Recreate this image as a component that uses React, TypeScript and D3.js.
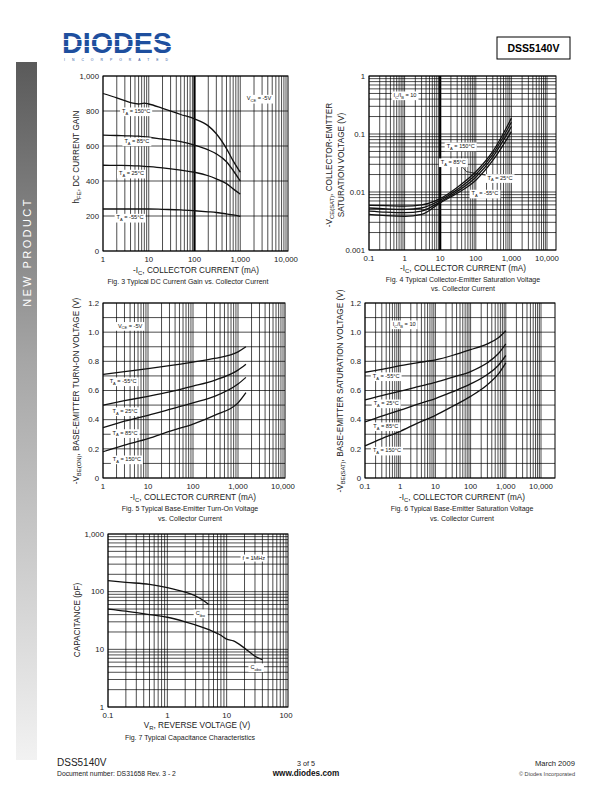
import React, { useLayoutEffect, useRef, useState } from 'react';
import * as d3 from 'd3';

// Fig. 3 - hFE vs IC
const fig3Current = [1, 2, 4, 6, 8, 10, 20, 50, 100, 200, 300, 500, 700, 1000];
const fig3Gain150 = [900, 875, 848, 840, 845, 840, 815, 780, 755, 715, 670, 585, 515, 450];
const fig3Gain85 = [662, 660, 658, 656, 654, 650, 640, 625, 605, 578, 555, 510, 460, 400];
const fig3Gain25 = [490, 489, 488, 486, 484, 482, 475, 462, 450, 430, 412, 385, 355, 325];
const fig3GainM55 = [240, 240, 240, 240, 240, 240, 238, 235, 230, 224, 220, 212, 206, 198];

// Fig. 4 - VCE(sat) vs IC
const fig4Current = [0.1, 0.3, 1, 3, 10, 30, 100, 300, 1000];
const fig4Vce150 = [0.0059, 0.0058, 0.0057, 0.006, 0.0077, 0.012, 0.0223, 0.05, 0.188];
const fig4Vce85 = [0.0053, 0.0051, 0.005, 0.0053, 0.0072, 0.011, 0.02, 0.045, 0.16];
const fig4Vce25 = [0.0047, 0.0045, 0.0044, 0.0047, 0.0068, 0.0102, 0.018, 0.04, 0.135];
const fig4VceM55 = [0.0041, 0.0039, 0.0038, 0.0041, 0.0065, 0.0095, 0.016, 0.035, 0.11];

// Fig. 5 - VBE(on) vs IC
const fig5Current = [1, 3, 10, 30, 100, 300, 1000, 1500];
const fig5VbeM55 = [0.71, 0.73, 0.75, 0.77, 0.795, 0.82, 0.865, 0.9];
const fig5Vbe25 = [0.5, 0.53, 0.56, 0.59, 0.63, 0.67, 0.74, 0.78];
const fig5Vbe85 = [0.345, 0.39, 0.43, 0.47, 0.515, 0.56, 0.645, 0.69];
const fig5Vbe150 = [0.18, 0.225, 0.27, 0.32, 0.37, 0.43, 0.515, 0.585];

// Fig. 6 - VBE(sat) vs IC
const fig6Current = [0.1, 0.3, 1, 3, 10, 30, 100, 300, 600, 1000];
const fig6VbeM55 = [0.725, 0.745, 0.77, 0.79, 0.81, 0.84, 0.88, 0.92, 0.96, 1.01];
const fig6Vbe25 = [0.535, 0.565, 0.595, 0.625, 0.655, 0.69, 0.73, 0.79, 0.85, 0.92];
const fig6Vbe85 = [0.385, 0.425, 0.465, 0.505, 0.545, 0.59, 0.645, 0.71, 0.77, 0.84];
const fig6Vbe150 = [0.22, 0.27, 0.32, 0.375, 0.43, 0.49, 0.56, 0.64, 0.71, 0.79];

// Fig. 7 - capacitance vs VR
const fig7CiboVolt = [0.1, 0.2, 0.5, 1, 2, 3, 4, 5];
const fig7Cibo = [155, 145, 134, 118, 98, 84, 71, 60];
const fig7CoboVolt = [0.1, 0.2, 0.5, 1, 2, 5, 8, 10, 13, 20, 30, 40];
const fig7Cobo = [50, 46, 40, 36, 30, 22, 17.5, 15, 14, 10.5, 7.6, 6.6];

// tick labels
const ticksCurrent1 = [1, 10, 100, 1000, 10000];
const ticksCurrent01 = [0.1, 1, 10, 100, 1000, 10000];
const ticksCurrentLbl1 = ['1', '10', '100', '1,000', '10,000'];
const ticksCurrentLbl01 = ['0.1', '1', '10', '100', '1,000', '10,000'];
const ticksGain = [0, 200, 400, 600, 800, 1000];
const ticksGainLbl = ['0', '200', '400', '600', '800', '1,000'];
const ticksVsat = [0.001, 0.01, 0.1, 1];
const ticksVsatLbl = ['0.001', '0.01', '0.1', '1'];
const ticksVbe = [0, 0.2, 0.4, 0.6, 0.8, 1.0, 1.2];
const ticksVbeLbl = ['0', '0.2', '0.4', '0.6', '0.8', '1.0', '1.2'];
const ticksVr = [0.1, 1, 10, 100];
const ticksVrLbl = ['0.1', '1', '10', '100'];
const ticksCap = [1, 10, 100, 1000];
const ticksCapLbl = ['1', '10', '100', '1,000'];

const FONT = '"Liberation Sans", Arial, Helvetica, sans-serif';
const TICK = 7.8;
const TITLE = 8.2;

function logGrid(min: number, max: number) {
  const out: number[] = [];
  for (let d = Math.floor(Math.log10(min)); d < Math.ceil(Math.log10(max)); d++) {
    for (let k = 1; k <= 9; k++) {
      const v = k * Math.pow(10, d);
      if (v >= min * 0.999 && v <= max * 1.001) out.push(v);
    }
  }
  out.push(max);
  return out;
}

// parts: plain strings, or [string] for a subscript
type Part = string | [string];
const Rich: React.FC<{ parts: Part[]; size: number }> = ({ parts, size }) => {
  let low = false;
  return (
    <>
      {parts.map((p, i) => {
        const isSub = Array.isArray(p);
        const text = isSub ? (p as [string])[0] : (p as string);
        const dy = isSub && !low ? size * 0.3 : !isSub && low ? -size * 0.3 : 0;
        low = isSub;
        return (
          <tspan key={i} dy={dy || undefined} fontSize={isSub ? size * 0.72 : undefined}>{text}</tspan>
        );
      })}
    </>
  );
};

const BoxLabel: React.FC<{ x: number; y: number; size?: number; children: React.ReactNode }> = ({ x, y, size = 5.6, children }) => {
  const ref = useRef<SVGTextElement>(null);
  const [box, setBox] = useState<{ x: number; y: number; w: number; h: number } | null>(null);
  useLayoutEffect(() => {
    if (ref.current) {
      const b = ref.current.getBBox();
      setBox({ x: b.x - 2, y: b.y - 0.5, w: b.width + 4, h: b.height + 1 });
    }
  }, []);
  return (
    <g>
      {box && <rect x={box.x} y={box.y} width={box.w} height={box.h} fill="white" />}
      <text ref={ref} x={x} y={y + size * 0.35} textAnchor="middle" fontSize={size} fontFamily={FONT} fill="#111">
        {children}
      </text>
    </g>
  );
};

interface Ann {
  x: number;
  y: number;
  content: React.ReactNode;
}

interface ChartProps {
  x0: number; x1: number; y0: number; y1: number;
  xEnd: number;
  xDomain: [number, number];
  xTicks: number[]; xTickLabels: string[];
  yLog: boolean;
  yDomain: [number, number];
  yTicks: number[]; yTickLabels: string[];
  yGrid: number[];
  boldX?: number[];
  series: { x: number[]; y: number[] }[];
  labels: Ann[];
  leaders?: { from: [number, number]; to: [number, number] }[];
}

const Chart: React.FC<ChartProps> = (p) => {
  const xs = d3.scaleLog().domain(p.xDomain).range([p.x0, p.xEnd]);
  const ys = p.yLog
    ? d3.scaleLog().domain(p.yDomain).range([p.y1, p.y0])
    : d3.scaleLinear().domain(p.yDomain).range([p.y1, p.y0]);
  const line = d3.line<[number, number]>()
    .x(d => xs(d[0]))
    .y(d => ys(d[1]))
    .curve(d3.curveMonotoneX);
  const vGrid = logGrid(p.xDomain[0], p.xDomain[1]);
  return (
    <g fontFamily={FONT}>
      {vGrid.map((v, i) => (
        <line key={'v' + i} x1={xs(v)} x2={xs(v)} y1={p.y0} y2={p.y1} stroke="#000" strokeWidth={0.7} />
      ))}
      {(p.boldX || []).map((v, i) => (
        <line key={'b' + i} x1={xs(v)} x2={xs(v)} y1={p.y0} y2={p.y1} stroke="#000" strokeWidth={2.2} />
      ))}
      {p.yGrid.map((v, i) => (
        <line key={'h' + i} x1={p.x0} x2={p.x1} y1={ys(v)} y2={ys(v)} stroke="#000" strokeWidth={0.7} />
      ))}
      <rect x={p.x0} y={p.y0} width={p.x1 - p.x0} height={p.y1 - p.y0} fill="none" stroke="#000" strokeWidth={1} />
      {p.series.map((s, i) => (
        <path key={'s' + i} d={line(s.x.map((x, j) => [x, s.y[j]] as [number, number])) || ''}
          fill="none" stroke="#111" strokeWidth={1.3} />
      ))}
      {(p.leaders || []).map((l, i) => (
        <line key={'l' + i} x1={xs(l.from[0])} y1={ys(l.from[1])} x2={xs(l.to[0])} y2={ys(l.to[1])}
          stroke="#111" strokeWidth={0.8} />
      ))}
      {p.labels.map((a, i) => (
        <BoxLabel key={'a' + i} x={xs(a.x)} y={ys(a.y)}>{a.content}</BoxLabel>
      ))}
      {p.xTicks.map((v, i) => (
        <text key={'xt' + i} x={xs(v)} y={p.y1 + 11} textAnchor="middle" fontSize={TICK} fill="#222">{p.xTickLabels[i]}</text>
      ))}
      {p.yTicks.map((v, i) => (
        <text key={'yt' + i} x={p.x0 - 4} y={ys(v) + 2.8} textAnchor="end" fontSize={TICK} fill="#222">{p.yTickLabels[i]}</text>
      ))}
    </g>
  );
};

const LS = 5.6;
const TA = (t: string) => <Rich parts={['T', ['A'], ` = ${t}°C`]} size={LS} />;

const Caption: React.FC<{ x: number; y: number; size?: number; children: React.ReactNode; rotate?: boolean }> = ({ x, y, size = 7.4, children, rotate }) => (
  <text transform={`translate(${x},${y})${rotate ? ' rotate(-90)' : ''}`} textAnchor="middle" fontSize={size}
    fontFamily={FONT} fill="#222">{children}</text>
);

const App: React.FC = () => {
  const icTitle = <Rich parts={['-I', ['C'], ', COLLECTOR CURRENT (mA)']} size={TITLE} />;
  const ratio = <Rich parts={['I', ['C'], '/I', ['B'], ' = 10']} size={LS} />;
  const vce = <Rich parts={['V', ['CE'], ' = -5V']} size={LS} />;
  return (
    <svg width={612} height={792} style={{ position: 'absolute', left: 0, top: 0, background: '#fff' }}>
      <defs>
        <linearGradient id="side" x1="0" x2="0" y1="0" y2="1">
          <stop offset="0" stopColor="#5a5a5a" />
          <stop offset="0.43" stopColor="#a6a6a6" />
          <stop offset="1" stopColor="#f2f2f2" />
        </linearGradient>
      </defs>
      <rect width={612} height={792} fill="#fff" />

      {/* header */}
      <text x={62} y={53} fontFamily='"Liberation Sans", sans-serif' fontWeight={700} fontSize={30} fill="#1e4f9e"
        textLength={110} lengthAdjust="spacingAndGlyphs">DIODES</text>
      <line x1={60} x2={175} y1={39.5} y2={39.5} stroke="#fff" strokeWidth={0.9} />
      <line x1={60} x2={175} y1={46.5} y2={46.5} stroke="#fff" strokeWidth={0.9} />
      <text x={64} y={61} fontFamily={FONT} fontSize={3.4} fill="#1e4f9e" textLength={104}
        lengthAdjust="spacing">INCORPORATED</text>
      <rect x={497} y={37} width={73} height={22} fill="none" stroke="#000" strokeWidth={1} />
      <text x={533.5} y={52} textAnchor="middle" fontFamily={FONT} fontWeight={700} fontSize={10.5}>DSS5140V</text>

      {/* side bar */}
      <rect x={16} y={62} width={21} height={698} fill="url(#side)" />
      <text transform="translate(30.5,252) rotate(-90)" textAnchor="middle" fontFamily={FONT} fontSize={11}
        letterSpacing={2.4} fill="#fff">NEW PRODUCT</text>

      {/* Fig 3 */}
      <Chart x0={103} x1={288} y0={76} y1={251} xEnd={286} xDomain={[1, 10000]}
        xTicks={ticksCurrent1} xTickLabels={ticksCurrentLbl1}
        yLog={false} yDomain={[0, 1000]} yTicks={ticksGain} yTickLabels={ticksGainLbl}
        yGrid={ticksGain} boldX={[100]}
        series={[
          { x: fig3Current, y: fig3Gain150 },
          { x: fig3Current, y: fig3Gain85 },
          { x: fig3Current, y: fig3Gain25 },
          { x: fig3Current, y: fig3GainM55 },
        ]}
        labels={[
          { x: 5.3, y: 800, content: TA('150') },
          { x: 5.5, y: 628, content: TA('85') },
          { x: 4.2, y: 444, content: TA('25') },
          { x: 3.9, y: 192, content: TA('-55') },
          { x: 2570, y: 872, content: vce },
        ]}
      />
      <Caption x={79} y={157} rotate size={TITLE}><Rich parts={['h', ['FE'], ', DC CURRENT GAIN']} size={TITLE} /></Caption>
      <Caption x={196} y={273} size={TITLE}>{icTitle}</Caption>
      <Caption x={188} y={283.5} size={7}>Fig. 3 Typical DC Current Gain vs. Collector Current</Caption>

      {/* Fig 4 */}
      <Chart x0={369} x1={556} y0={76} y1={250} xEnd={547} xDomain={[0.1, 10000]}
        xTicks={ticksCurrent01} xTickLabels={ticksCurrentLbl01}
        yLog={true} yDomain={[0.001, 1]} yTicks={ticksVsat} yTickLabels={ticksVsatLbl}
        yGrid={logGrid(0.001, 1)} boldX={[10]}
        series={[
          { x: fig4Current, y: fig4Vce150 },
          { x: fig4Current, y: fig4Vce85 },
          { x: fig4Current, y: fig4Vce25 },
          { x: fig4Current, y: fig4VceM55 },
        ]}
        leaders={[
          { from: [40, 0.028], to: [55, 0.0224] },
          { from: [300, 0.0185], to: [55, 0.0224] },
        ]}
        labels={[
          { x: 1.03, y: 0.47, content: ratio },
          { x: 37.7, y: 0.062, content: TA('150') },
          { x: 23.4, y: 0.033, content: TA('85') },
          { x: 479, y: 0.0176, content: TA('25') },
          { x: 181, y: 0.0095, content: TA('-55') },
        ]}
      />
      <Caption x={332} y={165} rotate size={TITLE}><Rich parts={['-V', ['CE(SAT)'], ', COLLECTOR-EMITTER']} size={TITLE} /></Caption>
      <Caption x={344} y={165} rotate size={TITLE}>SATURATION VOLTAGE (V)</Caption>
      <Caption x={463} y={271} size={TITLE}>{icTitle}</Caption>
      <Caption x={463} y={282} size={7}>Fig. 4 Typical Collector-Emitter Saturation Voltage</Caption>
      <Caption x={463} y={291} size={7}>vs. Collector Current</Caption>

      {/* Fig 5 */}
      <Chart x0={103} x1={285} y0={303} y1={478} xEnd={283} xDomain={[1, 10000]}
        xTicks={ticksCurrent1} xTickLabels={ticksCurrentLbl1}
        yLog={false} yDomain={[0, 1.2]} yTicks={ticksVbe} yTickLabels={ticksVbeLbl}
        yGrid={d3.range(0, 12.5, 1).map(v => v / 10)}
        series={[
          { x: fig5Current, y: fig5VbeM55 },
          { x: fig5Current, y: fig5Vbe25 },
          { x: fig5Current, y: fig5Vbe85 },
          { x: fig5Current, y: fig5Vbe150 },
        ]}
        labels={[
          { x: 4.0, y: 1.045, content: vce },
          { x: 2.8, y: 0.665, content: TA('-55') },
          { x: 3.1, y: 0.46, content: TA('25') },
          { x: 3.1, y: 0.31, content: TA('85') },
          { x: 3.4, y: 0.13, content: TA('150') },
        ]}
      />
      <Caption x={79} y={391} rotate size={TITLE}><Rich parts={['-V', ['BE(ON)'], ', BASE-EMITTER TURN-ON VOLTAGE (V)']} size={TITLE} /></Caption>
      <Caption x={193} y={500} size={TITLE}>{icTitle}</Caption>
      <Caption x={190} y={511} size={7}>Fig. 5 Typical Base-Emitter Turn-On Voltage</Caption>
      <Caption x={190} y={521} size={7}>vs. Collector Current</Caption>

      {/* Fig 6 */}
      <Chart x0={365} x1={555} y0={303} y1={478} xEnd={541} xDomain={[0.1, 10000]}
        xTicks={ticksCurrent01} xTickLabels={ticksCurrentLbl01}
        yLog={false} yDomain={[0, 1.2]} yTicks={ticksVbe} yTickLabels={ticksVbeLbl}
        yGrid={d3.range(0, 12.5, 1).map(v => v / 10)}
        series={[
          { x: fig6Current, y: fig6VbeM55 },
          { x: fig6Current, y: fig6Vbe25 },
          { x: fig6Current, y: fig6Vbe85 },
          { x: fig6Current, y: fig6Vbe150 },
        ]}
        labels={[
          { x: 1.3, y: 1.056, content: ratio },
          { x: 0.4, y: 0.7, content: TA('-55') },
          { x: 0.4, y: 0.514, content: TA('25') },
          { x: 0.39, y: 0.357, content: TA('85') },
          { x: 0.42, y: 0.19, content: TA('150') },
        ]}
      />
      <Caption x={343} y={391} rotate size={TITLE}><Rich parts={['-V', ['BE(SAT)'], ', BASE-EMITTER SATURATION VOLTAGE (V)']} size={TITLE} /></Caption>
      <Caption x={462} y={500} size={TITLE}>{icTitle}</Caption>
      <Caption x={462} y={511} size={7}>Fig. 6 Typical Base-Emitter Saturation Voltage</Caption>
      <Caption x={462} y={521} size={7}>vs. Collector Current</Caption>

      {/* Fig 7 */}
      <Chart x0={108} x1={288} y0={534} y1={707} xEnd={286} xDomain={[0.1, 100]}
        xTicks={ticksVr} xTickLabels={ticksVrLbl}
        yLog={true} yDomain={[1, 1000]} yTicks={ticksCap} yTickLabels={ticksCapLbl}
        yGrid={logGrid(1, 1000)}
        series={[
          { x: fig7CiboVolt, y: fig7Cibo },
          { x: fig7CoboVolt, y: fig7Cobo },
        ]}
        labels={[
          { x: 28.7, y: 382, content: 'f = 1MHz' },
          { x: 3.6, y: 42.6, content: <Rich parts={['C', ['ibo']]} size={LS} /> },
          { x: 31, y: 4.94, content: <Rich parts={['C', ['obo']]} size={LS} /> },
        ]}
      />
      <Caption x={80} y={620} rotate size={TITLE}>CAPACITANCE (pF)</Caption>
      <Caption x={197} y={728} size={TITLE}><Rich parts={['V', ['R'], ', REVERSE VOLTAGE (V)']} size={TITLE} /></Caption>
      <Caption x={190} y={740} size={7}>Fig. 7 Typical Capacitance Characteristics</Caption>

      {/* footer */}
      <text x={57} y={766} fontFamily={FONT} fontSize={10} fill="#222">DSS5140V</text>
      <text x={57} y={776} fontFamily={FONT} fontSize={6.8} fill="#222">Document number: DS31658 Rev. 3 - 2</text>
      <text x={306} y={766} textAnchor="middle" fontFamily={FONT} fontSize={7.2} fill="#222">3 of 5</text>
      <text x={306} y={776} textAnchor="middle" fontFamily={FONT} fontWeight={700} fontSize={8.2} fill="#111">www.diodes.com</text>
      <text x={575} y={766} textAnchor="end" fontFamily={FONT} fontSize={7.6} fill="#222">March 2009</text>
      <text x={575} y={776} textAnchor="end" fontFamily={FONT} fontSize={5.6} fill="#444">© Diodes Incorporated</text>
    </svg>
  );
};

export default App;
